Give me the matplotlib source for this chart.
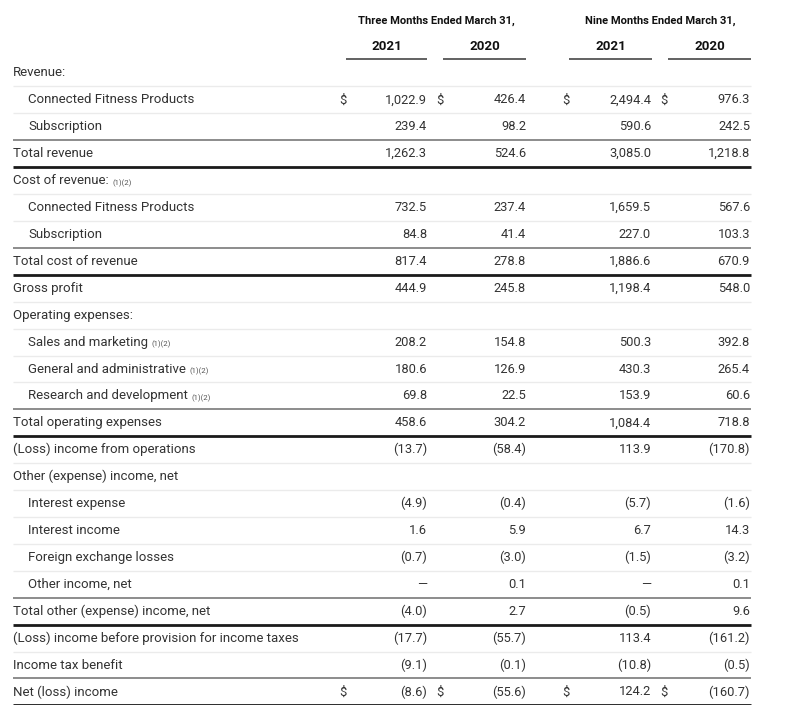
import matplotlib
matplotlib.use("Agg")
import matplotlib.pyplot as plt

# ---------------- data ----------------
period_titles = ["Three Months Ended March 31,", "Nine Months Ended March 31,"]
years = ["2021", "2020", "2021", "2020"]

labels = [
    "Revenue:",
    "Connected Fitness Products",
    "Subscription",
    "Total revenue",
    "Cost of revenue:",
    "Connected Fitness Products",
    "Subscription",
    "Total cost of revenue",
    "Gross profit",
    "Operating expenses:",
    "Sales and marketing",
    "General and administrative",
    "Research and development",
    "Total operating expenses",
    "(Loss) income from operations",
    "Other (expense) income, net",
    "Interest expense",
    "Interest income",
    "Foreign exchange losses",
    "Other income, net",
    "Total other (expense) income, net",
    "(Loss) income before provision for income taxes",
    "Income tax benefit",
    "Net (loss) income",
]
indented = [0, 1, 1, 0, 0, 1, 1, 0, 0, 0, 1, 1, 1, 0, 0, 0, 1, 1, 1, 1, 0, 0, 0, 0]
footnoted = [0, 0, 0, 0, 1, 0, 0, 0, 0, 0, 1, 1, 1, 0, 0, 0, 0, 0, 0, 0, 0, 0, 0, 0]
dollar_rows = [0, 1, 0, 0, 0, 0, 0, 0, 0, 0, 0, 0, 0, 0, 0, 0, 0, 0, 0, 0, 0, 0, 0, 1]
EMPTY = "empty"
DASH = "dash"
q3_2021 = [EMPTY, 1022.9, 239.4, 1262.3, EMPTY, 732.5, 84.8, 817.4, 444.9, EMPTY, 208.2, 180.6, 69.8, 458.6,
           -13.7, EMPTY, -4.9, 1.6, -0.7, DASH, -4.0, -17.7, -9.1, -8.6]
q3_2020 = [EMPTY, 426.4, 98.2, 524.6, EMPTY, 237.4, 41.4, 278.8, 245.8, EMPTY, 154.8, 126.9, 22.5, 304.2,
           -58.4, EMPTY, -0.4, 5.9, -3.0, 0.1, 2.7, -55.7, -0.1, -55.6]
m9_2021 = [EMPTY, 2494.4, 590.6, 3085.0, EMPTY, 1659.5, 227.0, 1886.6, 1198.4, EMPTY, 500.3, 430.3, 153.9, 1084.4,
           113.9, EMPTY, -5.7, 6.7, -1.5, DASH, -0.5, 113.4, -10.8, 124.2]
m9_2020 = [EMPTY, 976.3, 242.5, 1218.8, EMPTY, 567.6, 103.3, 670.9, 548.0, EMPTY, 392.8, 265.4, 60.6, 718.8,
           -170.8, EMPTY, -1.6, 14.3, -3.2, 0.1, 9.6, -161.2, -0.5, -160.7]
footnote_text = "(1)(2)"

# rule drawn under each row
rules = ["light", "light", "mid", "thick", "light", "light", "mid", "thick", "light", "light", "light", "light",
         "mid", "thick", "light", "light", "light", "light", "light", "mid", "thick", "light", "mid", "thick"]

# ---------------- layout ----------------
W, H = 800, 705
fig = plt.figure(figsize=(W / 100, H / 100), dpi=100)
ax = fig.add_axes([0, 0, 1, 1])
ax.set_xlim(0, W)
ax.set_ylim(H, 0)
ax.axis("off")

FONT = "Roboto"
TXT = "#333333"
LEFT, RIGHT = 13, 751
y_first, step = 73, 26.91
col_right = [427, 526, 651, 750]
col_dollar = [343, 440, 566, 664]
seg = [(346, 427), (443, 526), (569, 652), (668, 751)]
label_fs = 9.5
val_fs = 9.3

def fmt(v):
    if v == DASH:
        return "—"
    if v < 0:
        return "({:,.1f})".format(-v)
    return "{:,.1f}".format(v)

# headers
ax.text((seg[0][0] + seg[1][1]) / 2, 21, period_titles[0], ha="center", va="center",
        fontsize=8.0, fontweight="bold", family=FONT, color="#111111")
ax.text((seg[2][0] + seg[3][1]) / 2, 21, period_titles[1], ha="center", va="center",
        fontsize=8.0, fontweight="bold", family=FONT, color="#111111")
for (a, b), yr in zip(seg, years):
    ax.text((a + b) / 2, 47, yr, ha="center", va="center",
            fontsize=9.6, fontweight="bold", family=FONT, color="#111111")
    ax.plot([a, b], [59, 59], color="#555555", lw=1.3, solid_capstyle="butt")

cols = [q3_2021, q3_2020, m9_2021, m9_2020]
fig.canvas.draw()
renderer = fig.canvas.get_renderer()

for i, lab in enumerate(labels):
    yc = y_first + i * step
    x0 = 28 if indented[i] else 13
    t = ax.text(x0, yc, lab, ha="left", va="center", fontsize=label_fs, family=FONT, color=TXT)
    if footnoted[i]:
        bb = t.get_window_extent(renderer=renderer)
        xe = ax.transData.inverted().transform((bb.x1, bb.y0))[0]
        ax.text(xe + 4, yc + 2.5, footnote_text, ha="left", va="center", fontsize=5.6,
                family=FONT, color="#555555")
    for c, vals in enumerate(cols):
        v = vals[i]
        if v == EMPTY:
            continue
        ax.text(col_right[c], yc, fmt(v), ha="right", va="center", fontsize=val_fs,
                family=FONT, color=TXT)
        if dollar_rows[i]:
            ax.text(col_dollar[c], yc, "$", ha="center", va="center", fontsize=val_fs,
                    family=FONT, color=TXT)
    yl = yc + step / 2
    style = rules[i]
    if style == "light":
        ax.plot([LEFT, RIGHT], [yl, yl], color="#ebebeb", lw=1.0, solid_capstyle="butt")
    elif style == "mid":
        ax.plot([LEFT, RIGHT], [yl, yl], color="#8c8c8c", lw=1.4, solid_capstyle="butt")
    else:
        ax.plot([LEFT, RIGHT], [yl, yl], color="#1a1a1a", lw=2.0, solid_capstyle="butt")

fig.savefig("out.png", dpi=100, facecolor="white")
